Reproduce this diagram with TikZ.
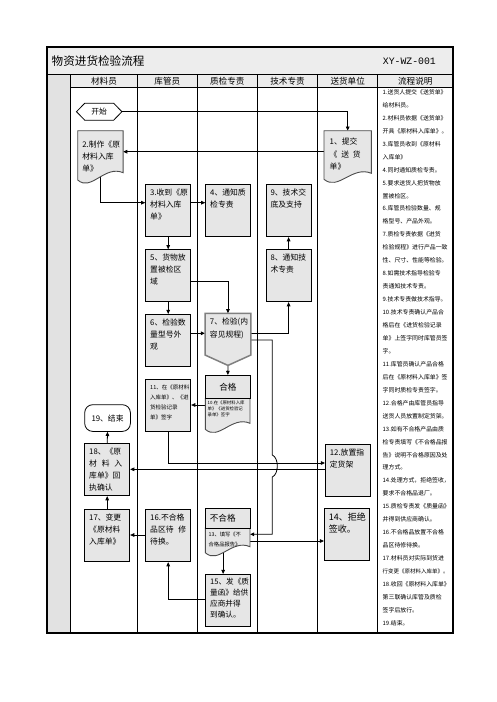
\documentclass[tikz,border=0pt]{standalone}
\usepackage{fontspec}
\setmainfont{Noto Sans CJK SC}
\newfontfamily\monof{Liberation Mono}
\usetikzlibrary{calc,arrows.meta}
\pgfdeclarelayer{bg}
\pgfdeclarelayer{conn}
\pgfdeclarelayer{shp}
\pgfsetlayers{bg,conn,shp,main}
\definecolor{boxgray}{HTML}{E6E6E6}
\definecolor{titlegray}{HTML}{EDEDED}
\definecolor{stripgray}{HTML}{E2E2E2}
\definecolor{headgray}{HTML}{ECECEC}
\definecolor{edgegray}{HTML}{808080}
\newcommand\bfont{\fontsize{7.8}{12.2}\selectfont}
\newcommand\bx[2][0pt]{\parbox[c][44pt][t]{36pt}{\raggedright\vspace*{#1}#2}}
\newcommand\docpath[4]{($(#1.north west)+(0,#3)$) -- (#1.north west) -- (#1.north east) -- ($(#1.north east)+(0,#4)$) .. controls ($(#1.north west)+({0.6*#2},{#4-8})$) and ($(#1.north west)+({0.3*#2},{#3+12})$) .. ($(#1.north west)+(0,#3)$) -- cycle}
\begin{document}
\begin{tikzpicture}[x=1pt,y=-1pt,
  arr/.style={line width=0.8pt,-{Triangle[length=4.2pt,width=3.6pt]}},
  box/.style={draw=black,line width=0.8pt,fill=boxgray,anchor=north west,inner sep=0pt,minimum width=45pt,minimum height=52pt,font=\bfont},
  ghost/.style={anchor=north west,inner sep=0pt,font=\bfont},
  docst/.style={fill=boxgray,draw=black!70,line width=0.9pt},
  hd/.style={inner sep=0pt,font=\fontsize{8.6}{10}\selectfont},
  lane/.style={line width=0.8pt}]
\useasboundingbox (0,0) rectangle (496,702);
\begin{pgfonlayer}{bg}
\fill[white] (0,0) rectangle (496,702);
\fill[titlegray] (47,47) rectangle (453,74.3);
\fill[stripgray] (47,74.3) rectangle (70.7,633);
\fill[headgray] (70.7,74.3) rectangle (453,87.3);
\draw[lane] (47,74.3) -- (453,74.3) (70.7,87.3) -- (453,87.3);
\foreach \x in {70.7,137.3,197.3,257.3,317.7,377.7} \draw[lane] (\x,74.3) -- (\x,633);
\draw[line width=1.1pt] (47,47) rectangle (453,633);
\end{pgfonlayer}

% title and headers
\node[anchor=west,inner sep=0pt,font=\fontsize{11.6}{12}\selectfont] (title) at (51.5,60.7) {物资进货检验流程};
\node[anchor=east,inner sep=0pt,font=\monof\fontsize{9.8}{10}\selectfont] (code) at (436,61) {XY-WZ-001};
\node[hd] (h1) at (104,80.8) {材料员};
\node[hd] (h2) at (167.3,80.8) {库管员};
\node[hd] (h3) at (227.3,80.8) {质检专责};
\node[hd] (h4) at (287.5,80.8) {技术专责};
\node[hd] (h5) at (347.7,80.8) {送货单位};
\node[hd] (h6) at (415.3,80.8) {流程说明};

% flow nodes
\node[minimum width=45pt,minimum height=16.7pt,inner sep=0pt,font=\bfont] (start) at (99.2,111.7) {开始};
\node[ghost,minimum width=47pt,minimum height=52.6pt] (n1) at (324,130.7) {\bx[3pt]{1、提交\\\makebox[31pt][s]{《\hfil 送\hfil 货}\\单》}};
\node[ghost,minimum width=45pt,minimum height=53.3pt] (n2) at (77.7,130.7) {\bx[5pt]{2.制作《原\\材料入库\\单》}};
\node[box] (n3) at (145.3,184.3) {\bx{3.收到《原\\材料入库\\单》}};
\node[box] (n4) at (205.3,184.3) {\bx{4、通知质\\检专责}};
\node[box] (n9) at (265.7,184.3) {\bx{9、技术交\\底及支持}};
\node[box] (n5) at (145.3,249.3) {\bx{5、货物放\\置被检区\\域}};
\node[box] (n8) at (265.7,249.3) {\bx{8、通知技\\术专责}};
\node[box] (n6) at (145.3,314) {\bx{6、检验数\\量型号外\\观}};
\node[ghost,minimum width=45.5pt,minimum height=51.7pt] (n7) at (205,313.3) {\bx[1pt]{7、检验(内\\容见规程)}};
\node[draw,line width=0.8pt,fill=boxgray,anchor=north west,minimum width=44.3pt,minimum height=23.3pt,inner sep=0pt,font=\fontsize{8.6}{10}\selectfont] (hege) at (205.3,375) {合格};
\node[ghost,minimum width=44.3pt,minimum height=33.4pt,font=\fontsize{4.4}{6}\selectfont] (n10) at (205.3,398.3) {\parbox[c][30pt][t]{40pt}{\raggedright\vspace*{1pt}10.在《原材料入库\\单》《进货检验记\\录单》签字}};
\node[box,font=\fontsize{5.5}{10}\selectfont] (n11) at (145.3,379.3) {\bx[1pt]{11、在《原材料\\入库单》、《进\\货检验记录\\单》签字}};
\node[draw,line width=0.8pt,fill=white,rounded corners=8pt,anchor=north west,minimum width=45.7pt,minimum height=26.7pt,inner sep=0pt,font=\bfont] (n19) at (84.3,404.3) {19、结束};
\node[box] (n12) at (325,444.3) {\bx{12.放置指\\定货架}};
\node[box] (n18) at (84.3,443.3) {\bx{18、《原\\\makebox[33pt][s]{材\hfil 料\hfil 入}\\库单》回\\执确认}};
\node[box,font=\fontsize{9}{12.5}\selectfont] (n14) at (324,508.3) {\bx{14、拒绝\\签收。}};
\node[draw,line width=0.8pt,fill=boxgray,anchor=north west,minimum width=44.3pt,minimum height=19.4pt,inner sep=0pt,font=\fontsize{8.6}{10}\selectfont] (buhege) at (205.3,508.3) {\parbox{36pt}{不合格}};
\node[ghost,minimum width=44.3pt,minimum height=28pt,font=\fontsize{5.3}{10.5}\selectfont] (n13) at (205.3,527.7) {\parbox[c][24pt][t]{38pt}{\raggedright\vspace*{2pt}13、填写《不\\合格品报告》}};
\node[box] (n16) at (145.3,509.3) {\bx{16.不合格\\\makebox[36pt][s]{品区待\hfil 修}\\待换。}};
\node[box] (n17) at (84.3,509.3) {\bx{17、变更\\《原材料\\入库单》}};
\node[box,font=\fontsize{7.6}{11}\selectfont] (n15) at (205.3,574) {\bx{15、发《质\\量函》给供\\应商并得\\到确认。}};

% description column
\node[anchor=north west,inner sep=0pt,text width=67pt,align=left,font=\fontsize{5.9}{12.95}\selectfont] (desc) at (382.5,89.2) {%
1.送货人提交《送货单》\\
给材料员。\\
2.材料员依据《送货单》\\
开具《原材料入库单》。\\
3.库管员收到《原材料\\
入库单》\\
4.同时通知质检专责。\\
5.要求送货人把货物放\\
置被检区。\\
6.库管员检验数量、规\\
格型号、产品外观。\\
7.质检专责依据《进货\\
检验规程》进行产品一致\\
性、尺寸、性能等检验。\\
8.如需技术指导检验专\\
责通知技术专责。\\
9.技术专责做技术指导。\\
10.技术专责确认产品合\\
格后在《进货检验记录\\
单》上签字同时库管员签\\
字。\\
11.库管员确认产品合格\\
后在《原材料入库单》签\\
字同时质检专责签字。\\
12.合格产由库管员指导\\
送货人员放置制定货架。\\
13.如有不合格产品由质\\
检专责填写《不合格品报\\
告》说明不合格原因及处\\
理方式。\\
14.处理方式，拒绝签收，\\
要求不合格品退厂。\\
15.质检专责发《质量函》\\
并得到供应商确认。\\
16.不合格品放置不合格\\
品区待修待换。\\
17.材料员对实际到货进\\
{\fontsize{5.5}{12.95}\selectfont 行变更《原材料入库单》。}\\
18.收回《原材料入库单》\\
第三联确认库管及质检\\
签字后放行。\\
19.结束。};

% shapes drawn from node anchors
\begin{pgfonlayer}{shp}
\filldraw[fill=white,draw=black,line width=0.8pt] (start.west) -- ($(start.north west)+(8.3,0)$) -- ($(start.north east)+(-8.3,0)$) -- (start.east) -- ($(start.south east)+(-8.3,0)$) -- ($(start.south west)+(8.3,0)$) -- cycle;
\filldraw[docst] \docpath{n1}{47}{48.6}{42.6};
\filldraw[docst] \docpath{n2}{45}{49.3}{42};
\filldraw[fill=boxgray,draw=edgegray,line width=1.5pt] (n7.north west) -- (n7.north east) -- ($(n7.north east)+(0,41.7)$) -- (n7.south) -- ($(n7.north west)+(0,41.7)$) -- cycle;
\filldraw[docst] \docpath{n10}{44.3}{31}{25};
\filldraw[docst] \docpath{n13}{44.3}{25}{19};
\end{pgfonlayer}

% connectors
\begin{pgfonlayer}{conn}
\draw[arr] (start.east) -| (n1.north);
\draw[arr] ($(n1.north west)+(0,21)$) -- ($(n2.north east)+(0,21)$);
\coordinate (c0) at ($(n2.north)+(0,45)$);
\coordinate (c1) at ($(n3.north west)+(0,18.4)$);
\draw[arr] (c0) |- (c1);
\coordinate (d1) at ($(n3.north east)+(0,18.4)$);
\draw[arr] (d1) -- (d1 -| n4.west);
\draw[arr] (n3.south) -- (n5.north);
\coordinate (f1) at ($(n5.north east)+(0,32.4)$);
\draw[arr] (f1) -| (n7.north);
\draw[arr] (n5.south) -- (n6.north);
\coordinate (h1c) at ($(n6.north east)+(0,19.3)$);
\draw[arr] (h1c) -- (h1c -| n7.west);
\coordinate (i1) at ($(n7.north east)+(0,20)$);
\draw[arr] (i1) -| (n8.south);
\draw[arr] (n8.north) -- (n9.south);
\coordinate (k1) at ($(n7.north east)+(0,26.7)$);
\coordinate (k2) at ($(n13.north east)+(0,6.6)$);
\coordinate (kx) at (272.3,455);
\coordinate (ky) at (272.3,477);
\draw[arr] (k1) -| (kx) .. controls (279,458) and (279,474) .. (ky) |- (k2);
\draw[arr] (n7.south) -- (hege.north);
\coordinate (m1) at ($(n10.north west)+(0,6.7)$);
\draw[arr] (m1) -- (m1 -| n11.east);
\coordinate (nn1) at ($(n12.north west)+(0,18.7)$);
\draw[arr] (n11.south) |- (nn1);
\coordinate (o1) at ($(n12.north west)+(0,25)$);
\draw[arr] (o1) -- (o1 -| n18.east);
\coordinate (p1) at ($(n13.north east)+(0,13.3)$);
\draw[arr] (p1) -- (p1 -| n14.west);
\coordinate (q1) at ($(n13.north)+(-4.5,20)$);
\draw[arr] (q1) -- (q1 |- n15.north);
\coordinate (r1) at ($(n15.north west)+(0,25.3)$);
\draw[arr] (r1) -| (n16.south);
\coordinate (s1) at ($(n16.north west)+(0,25.7)$);
\draw[arr] (s1) -- (s1 -| n17.east);
\draw[arr] (n17.north) -- (n18.south);
\draw[arr] (n18.north) -- (n19.south);
\end{pgfonlayer}
\end{tikzpicture}
\end{document}
